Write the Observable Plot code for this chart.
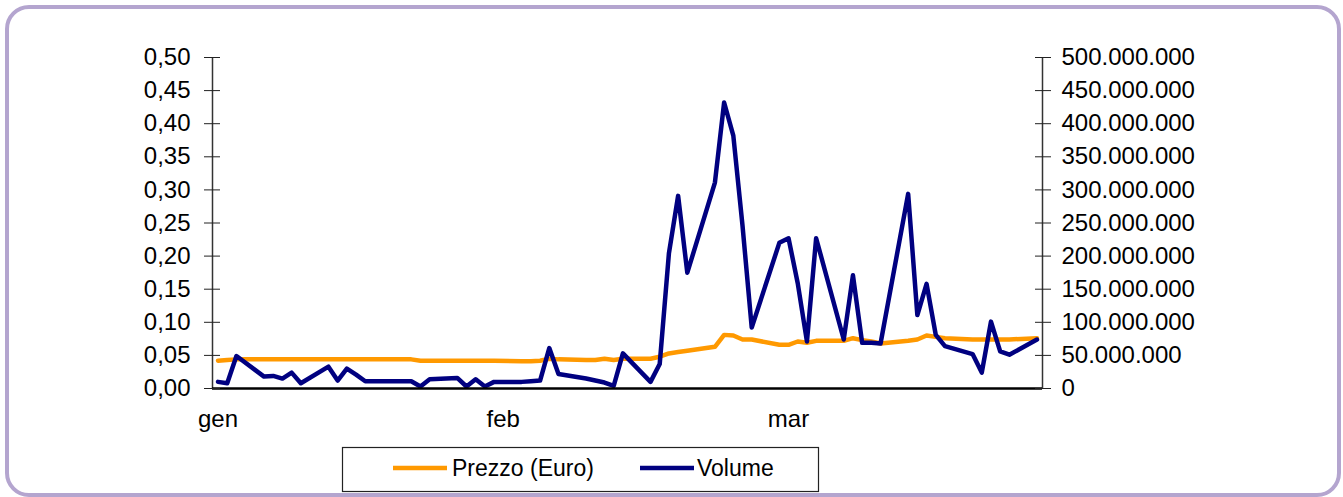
<!DOCTYPE html>
<html>
<head>
<meta charset="utf-8">
<script src="https://cdn.jsdelivr.net/npm/d3@7"></script>
<script src="https://cdn.jsdelivr.net/npm/@observablehq/plot@0.6"></script>
<style>
html, body { margin: 0; padding: 0; background: #fff; }
#wrap { position: relative; width: 1343px; height: 497px; overflow: hidden; font-family: "Liberation Sans", Arial, sans-serif; }
#frame { position: absolute; left: 5px; top: 5px; width: 1336px; height: 492px; box-sizing: border-box; border: 4px solid #b4a5cf; border-radius: 24px; }
#chart { position: absolute; left: 0; top: 0; }
#legend { position: absolute; left: 0; top: 440px; }
</style>
</head>
<body>
<div id="wrap">
  <div id="frame"></div>
  <div id="chart"></div>
  <div id="legend"></div>
</div>
<script>
// ---- data ----
const dates = [
  "2008-01-02","2008-01-03","2008-01-04","2008-01-07","2008-01-08","2008-01-09","2008-01-10","2008-01-11",
  "2008-01-14","2008-01-15","2008-01-16","2008-01-17","2008-01-18","2008-01-21","2008-01-22","2008-01-23",
  "2008-01-24","2008-01-25","2008-01-28","2008-01-29","2008-01-30","2008-01-31","2008-02-01","2008-02-04",
  "2008-02-05","2008-02-06","2008-02-07","2008-02-08","2008-02-11","2008-02-12","2008-02-13","2008-02-14",
  "2008-02-15","2008-02-18","2008-02-19","2008-02-20","2008-02-21","2008-02-22","2008-02-25","2008-02-26",
  "2008-02-27","2008-02-28","2008-02-29","2008-03-03","2008-03-04","2008-03-05","2008-03-06","2008-03-07",
  "2008-03-10","2008-03-11","2008-03-12","2008-03-13","2008-03-14","2008-03-17","2008-03-18","2008-03-19",
  "2008-03-20","2008-03-21","2008-03-24","2008-03-25","2008-03-26","2008-03-27","2008-03-28","2008-03-31"
];
const prezzo = [
  0.042,0.043,0.044,0.044,0.044,0.044,0.044,0.044,
  0.044,0.044,0.044,0.044,0.044,0.044,0.044,0.044,
  0.042,0.042,0.042,0.042,0.042,0.042,0.042,0.041,
  0.041,0.042,0.045,0.044,0.043,0.043,0.045,0.043,
  0.045,0.045,0.048,0.053,0.055,0.057,0.063,0.081,
  0.080,0.074,0.074,0.066,0.066,0.071,0.069,0.072,
  0.072,0.076,0.073,0.071,0.068,0.072,0.074,0.080,
  0.078,0.076,0.074,0.074,0.074,0.074,0.074,0.076
];
const volume = [
  10e6,8e6,49e6,18e6,19e6,15e6,24e6,8e6,
  33e6,12e6,30e6,21e6,11e6,11e6,11e6,11e6,
  3e6,14e6,16e6,3e6,14e6,3e6,10e6,10e6,
  11e6,12e6,61e6,22e6,15e6,12e6,9e6,4e6,
  53e6,10e6,37e6,204e6,291e6,175e6,311e6,432e6,
  382e6,246e6,92e6,220e6,227e6,159e6,71e6,227e6,
  74e6,171e6,69e6,69e6,68e6,294e6,111e6,158e6,
  81e6,64e6,52e6,24e6,101e6,56e6,51e6,74e6
];
const seriesNames = ["Prezzo (Euro)", "Volume"];
const seriesColors = ["#FF9900", "#000080"];
const priceTicks = [0, 0.05, 0.10, 0.15, 0.20, 0.25, 0.30, 0.35, 0.40, 0.45, 0.50];
const volumeTicks = [0, 50e6, 100e6, 150e6, 200e6, 250e6, 300e6, 350e6, 400e6, 450e6, 500e6];
const monthTickDates = ["2008-01-02", "2008-02-02", "2008-03-04"];
const monthLabels = ["gen", "feb", "mar"];

// ---- build ----
const parse = d3.utcParse("%Y-%m-%d");
const ratio = volumeTicks[volumeTicks.length - 1] / priceTicks[priceTicks.length - 1];
const rows = dates.map((d, i) => ({date: parse(d), prezzo: prezzo[i], volume: volume[i]}));
const day = 864e5;
const xStart = new Date(+parse(dates[0]) - 0.6 * day);
const xEnd = new Date(+parse(dates[dates.length - 1]) + 0.6 * day);
const itLocale = d3.formatLocale({decimal: ",", thousands: ".", grouping: [3], currency: ["€", ""]});
const fmtPrice = itLocale.format(".2f");
const fmtVol = itLocale.format(",.0f");
const mTicks = monthTickDates.map(parse);
const volTickPos = volumeTicks.map(v => v / ratio);

const chart = Plot.plot({
  width: 1343,
  height: 440,
  marginLeft: 212,
  marginRight: 301,
  marginTop: 57,
  marginBottom: 52,
  style: {fontFamily: "'Liberation Sans', Arial, sans-serif", fontSize: "24px", color: "#000", background: "transparent", overflow: "visible"},
  x: {type: "utc", domain: [xStart, xEnd]},
  y: {domain: [0, 0.5]},
  marks: [
    Plot.line(rows, {x: "date", y: "prezzo", stroke: seriesColors[0], strokeWidth: 4.5}),
    Plot.line(rows, {x: "date", y: d => d.volume / ratio, stroke: seriesColors[1], strokeWidth: 4.5}),
    Plot.ruleX([xStart], {stroke: "#333", strokeWidth: 1.5}),
    Plot.ruleX([xEnd], {stroke: "#333", strokeWidth: 1.5}),
    Plot.ruleY([0], {stroke: "#000", strokeWidth: 2.5}),
    Plot.axisY(priceTicks, {anchor: "left", tickSize: 16, dx: 8, fill: "none", stroke: "#222", label: null}),
    Plot.axisY(priceTicks, {anchor: "left", tickSize: 0, tickPadding: 22, tickFormat: fmtPrice, label: null}),
    Plot.axisY(volTickPos, {anchor: "right", tickSize: 16, dx: -8, fill: "none", stroke: "#222", label: null}),
    Plot.axisY(volTickPos, {anchor: "right", tickSize: 0, tickPadding: 19, tickFormat: v => fmtVol(Math.round(v * ratio)), label: null}),
    Plot.axisX(mTicks, {tickSize: 0, tickPadding: 21, tickFormat: d => monthLabels[mTicks.findIndex(t => +t === +d)], label: null})
  ]
});
document.getElementById("chart").appendChild(chart);

// ---- legend ----
const lg = d3.select("#legend").append("svg").attr("width", 1343).attr("height", 57);
lg.append("rect").attr("x", 342.5).attr("y", 7.5).attr("width", 476).attr("height", 44)
  .attr("fill", "#fff").attr("stroke", "#222").attr("stroke-width", 1.2);
const items = [{x0: 393, x1: 447, tx: 452}, {x0: 640, x1: 694, tx: 697}];
seriesNames.forEach((name, i) => {
  lg.append("line").attr("x1", items[i].x0).attr("x2", items[i].x1).attr("y1", 28).attr("y2", 28)
    .attr("stroke", seriesColors[i]).attr("stroke-width", 4.5);
  lg.append("text").attr("x", items[i].tx).attr("y", 36)
    .style("font-family", "'Liberation Sans', Arial, sans-serif").style("font-size", "23px").attr("fill", "#000")
    .text(name);
});
</script>
</body>
</html>
